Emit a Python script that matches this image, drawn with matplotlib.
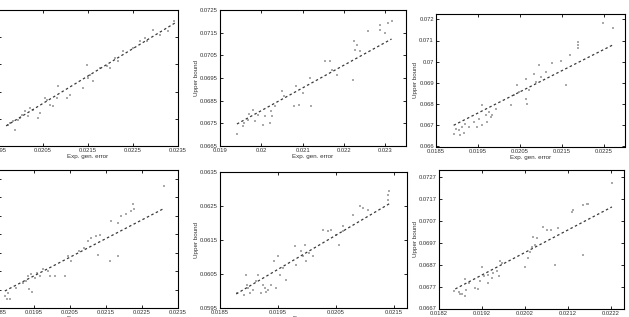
import matplotlib
matplotlib.use("Agg")
import matplotlib.pyplot as plt

plt.rcParams['font.family'] = ['Liberation Sans', 'DejaVu Sans']

# ---------------- data ----------------
# Panel 1 (top-left)
p1_x = [0.01977, 0.01988, 0.01983, 0.01999, 0.02003, 0.02010, 0.02028, 0.02039, 0.02043, 0.02054,
        0.02066, 0.02072, 0.02083, 0.02081, 0.02103, 0.02110, 0.02139, 0.02148, 0.02150, 0.02155,
        0.02161, 0.02177, 0.02193, 0.02199, 0.02210, 0.02217, 0.02228, 0.02250, 0.02266, 0.02277,
        0.02282, 0.02295, 0.02311, 0.02327, 0.02340, 0.01972, 0.01995, 0.02017, 0.02021, 0.02059]
p1_y = [0.06685, 0.06659, 0.06692, 0.06703, 0.06714, 0.06729, 0.06732, 0.06703, 0.06721, 0.06776,
        0.06751, 0.06747, 0.06821, 0.06776, 0.06776, 0.06788, 0.06813, 0.06898, 0.06850, 0.06861,
        0.06839, 0.06887, 0.06894, 0.06887, 0.06924, 0.06913, 0.06949, 0.06960, 0.06986, 0.06997,
        0.06986, 0.07026, 0.07008, 0.07023, 0.07060, 0.06677, 0.06696, 0.06710, 0.06740, 0.06769]
p1_line_x = [0.01968, 0.02343]
p1_line_y = [0.06674, 0.07052]
p1_xticks = [0.0195, 0.0205, 0.0215, 0.0225, 0.0235]
p1_yticks = [0.066, 0.067, 0.068, 0.069, 0.070, 0.071]

# Panel 2 (top-middle)
p2_x = [0.01941, 0.01956, 0.01959, 0.01968, 0.01971, 0.01980, 0.01985, 0.01993, 0.02005, 0.02010,
        0.02020, 0.02024, 0.02027, 0.02032, 0.02049, 0.02056, 0.02078, 0.02085, 0.02090, 0.02102,
        0.02117, 0.02120, 0.02154, 0.02166, 0.02171, 0.02183, 0.02224, 0.02227, 0.02232, 0.02239,
        0.02222, 0.02259, 0.02288, 0.02288, 0.02298, 0.02307, 0.02315]
p2_y = [0.06703, 0.06738, 0.06751, 0.06765, 0.06791, 0.06809, 0.06760, 0.06787, 0.06743, 0.06782,
        0.06751, 0.06804, 0.06782, 0.06826, 0.06893, 0.06871, 0.06826, 0.06915, 0.06831, 0.06884,
        0.06950, 0.06826, 0.07025, 0.07025, 0.06985, 0.06963, 0.07113, 0.07074, 0.07096, 0.07069,
        0.06941, 0.07157, 0.07184, 0.07162, 0.07149, 0.07193, 0.07201]
p2_line_x = [0.01941, 0.02315]
p2_line_y = [0.06747, 0.07122]
p2_xticks = [0.019, 0.020, 0.021, 0.022, 0.023]
p2_yticks = [0.0665, 0.0675, 0.0685, 0.0695, 0.0705, 0.0715, 0.0725]

# Panel 3 (top-right)
p3_x = [0.01892, 0.01898, 0.01904, 0.01908, 0.01912, 0.01916, 0.01920, 0.01928, 0.01940, 0.01948,
        0.01952, 0.01959, 0.01960, 0.01968, 0.01972, 0.01976, 0.01980, 0.01984, 0.01992, 0.02028,
        0.02036, 0.02044, 0.02048, 0.02064, 0.02064, 0.02066, 0.02072, 0.02084, 0.02088, 0.02096,
        0.02100, 0.02112, 0.02127, 0.02148, 0.02160, 0.02168, 0.02188, 0.02189, 0.02189, 0.02248,
        0.02272]
p3_y = [0.06660, 0.06684, 0.06676, 0.06653, 0.06692, 0.06665, 0.06708, 0.06692, 0.06716, 0.06692,
        0.06731, 0.06700, 0.06794, 0.06747, 0.06716, 0.06763, 0.06739, 0.06747, 0.06778, 0.06794,
        0.06842, 0.06889, 0.06857, 0.06920, 0.06825, 0.06802, 0.06865, 0.06943, 0.06904, 0.06983,
        0.06928, 0.06951, 0.06995, 0.07002, 0.06889, 0.07030, 0.07093, 0.07077, 0.07065, 0.07184,
        0.07159]
p3_line_x = [0.01892, 0.02272]
p3_line_y = [0.06700, 0.07080]
p3_xticks = [0.0185, 0.0195, 0.0205, 0.0215, 0.0225]
p3_yticks = [0.066, 0.067, 0.068, 0.069, 0.070, 0.071, 0.072]

# Panel 4 (bottom-left)
p4_x = [0.01869, 0.01874, 0.01883, 0.01878, 0.01901, 0.01920, 0.01929, 0.01933, 0.01936, 0.01943,
        0.01945, 0.01952, 0.01957, 0.01966, 0.01975, 0.01989, 0.01994, 0.02008, 0.02035, 0.02044,
        0.02054, 0.02076, 0.02090, 0.02100, 0.02109, 0.02123, 0.02127, 0.02134, 0.02160, 0.02164,
        0.02183, 0.02183, 0.02192, 0.02206, 0.02220, 0.02224, 0.02229, 0.02312]
p4_y = [0.06632, 0.06625, 0.06625, 0.06641, 0.06655, 0.06668, 0.06673, 0.06686, 0.06651, 0.06691,
        0.06643, 0.06682, 0.06695, 0.06686, 0.06705, 0.06700, 0.06686, 0.06686, 0.06686, 0.06741,
        0.06727, 0.06754, 0.06763, 0.06781, 0.06790, 0.06795, 0.06742, 0.06796, 0.06727, 0.06835,
        0.06831, 0.06741, 0.06849, 0.06853, 0.06862, 0.06880, 0.06868, 0.06930]
p4_line_x = [0.01869, 0.02307]
p4_line_y = [0.06646, 0.06867]
p4_xticks = [0.0185, 0.0195, 0.0205, 0.0215, 0.0225, 0.0235]
p4_yticks = [0.0660, 0.0665, 0.0670, 0.0675, 0.0680, 0.0685, 0.0690, 0.0695]

# Panel 5 (bottom-middle)
p5_x = [0.01879, 0.01892, 0.01895, 0.01897, 0.01898, 0.01901, 0.01907, 0.01913, 0.01916, 0.01921,
        0.01924, 0.01927, 0.01930, 0.01933, 0.01938, 0.01944, 0.01947, 0.01950, 0.01953, 0.01959,
        0.01964, 0.01979, 0.01982, 0.01990, 0.01993, 0.01996, 0.01999, 0.02004, 0.02010, 0.02028,
        0.02036, 0.02042, 0.02051, 0.02056, 0.02062, 0.02062, 0.02079, 0.02091, 0.02097, 0.02105,
        0.02140, 0.02142, 0.02140]
p5_y = [0.05993, 0.05988, 0.06047, 0.06017, 0.06008, 0.05993, 0.06003, 0.06027, 0.06045, 0.05993,
        0.06017, 0.06008, 0.05996, 0.06003, 0.06017, 0.06086, 0.06008, 0.06101, 0.06047, 0.06067,
        0.06032, 0.06131, 0.06076, 0.06116, 0.06101, 0.06135, 0.06086, 0.06111, 0.06101, 0.06180,
        0.06175, 0.06180, 0.06165, 0.06135, 0.06190, 0.06175, 0.06224, 0.06251, 0.06244, 0.06238,
        0.06283, 0.06293, 0.06268]
p5_line_x = [0.01878, 0.02144]
p5_line_y = [0.05990, 0.06258]
p5_xticks = [0.0185, 0.0195, 0.0205, 0.0215]
p5_yticks = [0.0595, 0.0605, 0.0615, 0.0625, 0.0635]

# Panel 6 (bottom-right)
p6_x = [0.01854, 0.01866, 0.01870, 0.01874, 0.01880, 0.01883, 0.01881, 0.01889, 0.01904, 0.01912,
        0.01916, 0.01920, 0.01924, 0.01934, 0.01935, 0.01943, 0.01947, 0.01955, 0.01959, 0.01962,
        0.01966, 0.02020, 0.02028, 0.02032, 0.02036, 0.02040, 0.02044, 0.02048, 0.02063, 0.02071,
        0.02082, 0.02090, 0.02098, 0.02129, 0.02132, 0.02156, 0.02156, 0.02164, 0.02167, 0.02223]
p6_y = [0.06749, 0.06744, 0.06734, 0.06738, 0.06729, 0.06753, 0.06802, 0.06786, 0.06764, 0.06759,
        0.06794, 0.06861, 0.06816, 0.06824, 0.06786, 0.06809, 0.06831, 0.06839, 0.06816, 0.06884,
        0.06876, 0.06861, 0.06899, 0.06929, 0.06952, 0.06997, 0.06959, 0.06989, 0.07042, 0.07027,
        0.07027, 0.06869, 0.07034, 0.07109, 0.07117, 0.06914, 0.07139, 0.07144, 0.07146, 0.07240]
p6_line_x = [0.01858, 0.02223]
p6_line_y = [0.06759, 0.07132]
p6_xticks = [0.0182, 0.0192, 0.0202, 0.0212, 0.0222]
p6_yticks = [0.0667, 0.0677, 0.0687, 0.0697, 0.0707, 0.0717, 0.0727]

# ---------------- figure ----------------
W, H = 629, 317
fig = plt.figure(figsize=(W / 100, H / 100), dpi=100)

def px_axes(l, t, r, b):
    return fig.add_axes([l / W, (H - b) / H, (r - l) / W, (b - t) / H])

panels = [
    ((-2, 10, 178, 146), p1_x, p1_y, p1_line_x, p1_line_y, (0.0195, 0.0235), (0.066, 0.071), p1_xticks, p1_yticks),
    ((220, 10, 406, 146), p2_x, p2_y, p2_line_x, p2_line_y, (0.019, 0.0235), (0.0665, 0.0725), p2_xticks, p2_yticks),
    ((436, 14, 625, 146.5), p3_x, p3_y, p3_line_x, p3_line_y, (0.0185, 0.0230), (0.066, 0.07225), p3_xticks, p3_yticks),
    ((-2, 170, 178, 308), p4_x, p4_y, p4_line_x, p4_line_y, (0.0185, 0.0235), (0.066, 0.06973), p4_xticks, p4_yticks),
    ((220, 172, 406.5, 307.5), p5_x, p5_y, p5_line_x, p5_line_y, (0.0185, 0.02172), (0.0595, 0.0635), p5_xticks, p5_yticks),
    ((439, 170, 623.5, 308.5), p6_x, p6_y, p6_line_x, p6_line_y, (0.0182, 0.0225), (0.0667, 0.0730), p6_xticks, p6_yticks),
]

for box, x, y, lx, ly, xl, yl, xt, yt in panels:
    ax = px_axes(*box)
    ax.scatter(x, y, s=0.9, marker='s', color='#aaaaaa', linewidths=0, zorder=2)
    ax.plot(lx, ly, color='#3a3a3a', lw=0.9, dashes=(2, 2), zorder=3)
    ax.set_xlim(*xl)
    ax.set_ylim(*yl)
    ax.set_xticks(xt)
    ax.set_yticks(yt)
    ax.set_xticklabels(['%g' % v for v in xt])
    ax.set_yticklabels(['%g' % v for v in yt])
    ax.tick_params(direction='in', length=2, width=0.6, labelsize=4.2, pad=1.5,
                   top=True, right=True, colors='black', labelcolor='#333333')
    for sp in ax.spines.values():
        sp.set_linewidth(0.8)
        sp.set_color('black')
    ax.set_xlabel('Exp. gen. error', fontsize=4.5, labelpad=1, color='#333333')
    ax.set_ylabel('Upper bound', fontsize=4.5, labelpad=0.5, color='#333333')

fig.savefig('out.png', dpi=100)
